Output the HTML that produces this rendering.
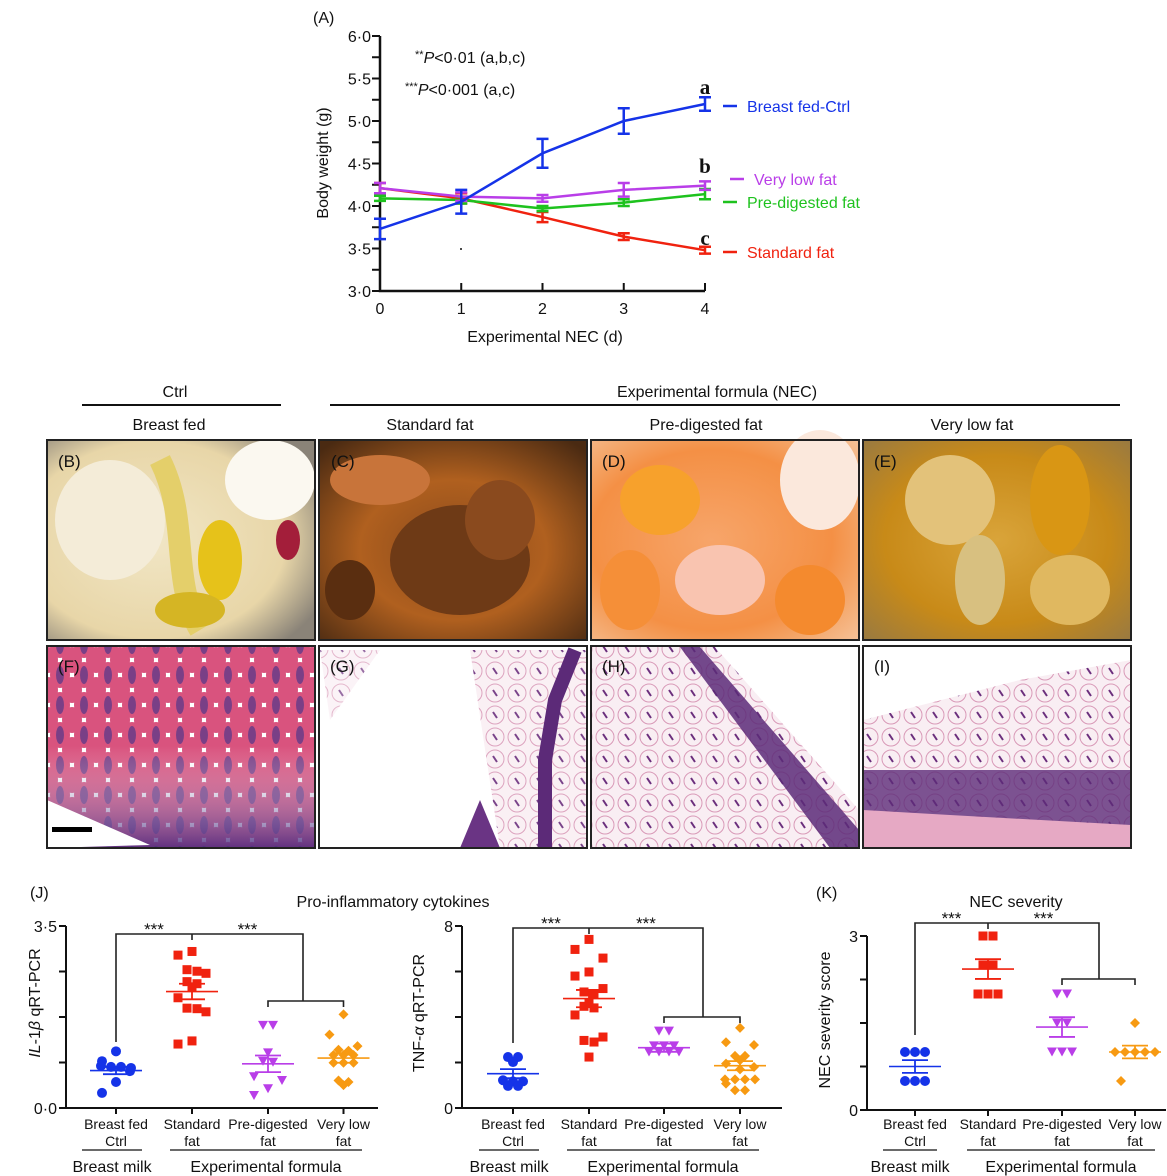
<!DOCTYPE html>
<html><head><meta charset="utf-8"><style>
html,body{margin:0;padding:0;background:#fff;}
svg{display:block;font-family:"Liberation Sans",sans-serif;}
</style></head><body>
<svg id="fig" width="1167" height="1176" viewBox="0 0 1167 1176" xmlns="http://www.w3.org/2000/svg">
<defs>
  <pattern id="villi" width="24" height="30" patternUnits="userSpaceOnUse">
    <rect width="24" height="30" fill="#fff"/>
    <ellipse cx="12" cy="15" rx="10" ry="13" fill="#d9537e"/>
    <ellipse cx="12" cy="15" rx="4" ry="9" fill="#7a3f86"/>
    <ellipse cx="0" cy="0" rx="10" ry="13" fill="#d9537e"/>
    <ellipse cx="24" cy="0" rx="10" ry="13" fill="#d9537e"/>
    <ellipse cx="0" cy="30" rx="10" ry="13" fill="#d9537e"/>
    <ellipse cx="24" cy="30" rx="10" ry="13" fill="#d9537e"/>
  </pattern>
  <pattern id="crypts" width="22" height="22" patternUnits="userSpaceOnUse">
    <rect width="22" height="22" fill="#f9eef3"/>
    <circle cx="11" cy="11" r="9" fill="none" stroke="#d99ab8" stroke-width="1"/>
    <path d="M9 8 L13 14" stroke="#6b2f7d" stroke-width="2"/>
  </pattern>
  <linearGradient id="fadeB" x1="0" y1="0" x2="0" y2="1"><stop offset="0" stop-color="#fff" stop-opacity="0"/><stop offset="1" stop-color="#4a2a80" stop-opacity=".85"/></linearGradient>
  <radialGradient id="gB" cx=".4" cy=".5" r=".7"><stop offset="0" stop-color="#f1e6c5"/><stop offset=".7" stop-color="#e8d6a8"/><stop offset="1" stop-color="#8a8378"/></radialGradient>
  <radialGradient id="gC" cx=".5" cy=".55" r=".7"><stop offset="0" stop-color="#8a4a1c"/><stop offset=".5" stop-color="#b0601f"/><stop offset="1" stop-color="#4a2a12"/></radialGradient>
  <radialGradient id="gD" cx=".45" cy=".5" r=".75"><stop offset="0" stop-color="#f7a56a"/><stop offset=".6" stop-color="#f49045"/><stop offset="1" stop-color="#f5c39a"/></radialGradient>
  <radialGradient id="gE" cx=".5" cy=".5" r=".7"><stop offset="0" stop-color="#d9a43a"/><stop offset=".6" stop-color="#c88a18"/><stop offset="1" stop-color="#9a7a40"/></radialGradient>
</defs>

<g id="panelA"></g>

<g font-size="16" fill="#111">
  <text x="175" y="397" text-anchor="middle">Ctrl</text>
  <line x1="82" y1="405" x2="281" y2="405" stroke="#111" stroke-width="2"/>
  <text x="717" y="397" text-anchor="middle">Experimental formula (NEC)</text>
  <line x1="330" y1="405" x2="1120" y2="405" stroke="#111" stroke-width="2"/>
  <text x="169" y="430" text-anchor="middle">Breast fed</text>
  <text x="430" y="430" text-anchor="middle">Standard fat</text>
  <text x="706" y="430" text-anchor="middle">Pre-digested fat</text>
  <text x="972" y="430" text-anchor="middle">Very low fat</text>
</g>

<g>
  <rect x="47" y="440" width="268" height="200" fill="url(#gB)"/>
  <ellipse cx="110" cy="520" rx="55" ry="60" fill="#f4ecd8"/>
  <ellipse cx="270" cy="480" rx="45" ry="40" fill="#fbf8f0"/>
  <path d="M160 460 C190 520 170 580 200 630" stroke="#e4cf6a" stroke-width="22" fill="none"/>
  <ellipse cx="220" cy="560" rx="22" ry="40" fill="#e6c21a"/>
  <ellipse cx="190" cy="610" rx="35" ry="18" fill="#d5b524"/>
  <ellipse cx="288" cy="540" rx="12" ry="20" fill="#a31e3a"/>
  <rect x="47" y="440" width="268" height="200" fill="none" stroke="#222" stroke-width="2"/>
  <text x="58" y="467" font-size="17" fill="#111">(B)</text>
</g>
<g>
  <rect x="319" y="440" width="268" height="200" fill="url(#gC)"/>
  <ellipse cx="380" cy="480" rx="50" ry="25" fill="#c8743a"/>
  <ellipse cx="460" cy="560" rx="70" ry="55" fill="#6e3a16"/>
  <ellipse cx="500" cy="520" rx="35" ry="40" fill="#8a4a1e"/>
  <ellipse cx="350" cy="590" rx="25" ry="30" fill="#5a2e10"/>
  <rect x="319" y="440" width="268" height="200" fill="none" stroke="#222" stroke-width="2"/>
  <text x="331" y="467" font-size="17" fill="#111">(C)</text>
</g>
<g>
  <rect x="591" y="440" width="268" height="200" fill="url(#gD)"/>
  <ellipse cx="820" cy="480" rx="40" ry="50" fill="#fbe8dc"/>
  <ellipse cx="660" cy="500" rx="40" ry="35" fill="#f7a12c"/>
  <ellipse cx="720" cy="580" rx="45" ry="35" fill="#f9c4b0"/>
  <ellipse cx="630" cy="590" rx="30" ry="40" fill="#f58f38"/>
  <ellipse cx="810" cy="600" rx="35" ry="35" fill="#f48a2e"/>
  <rect x="591" y="440" width="268" height="200" fill="none" stroke="#222" stroke-width="2"/>
  <text x="602" y="467" font-size="17" fill="#111">(D)</text>
</g>
<g>
  <rect x="863" y="440" width="268" height="200" fill="url(#gE)"/>
  <ellipse cx="950" cy="500" rx="45" ry="45" fill="#e3c27a"/>
  <ellipse cx="1060" cy="500" rx="30" ry="55" fill="#d99614"/>
  <ellipse cx="980" cy="580" rx="25" ry="45" fill="#d8c080"/>
  <ellipse cx="1070" cy="590" rx="40" ry="35" fill="#e0b860"/>
  <rect x="863" y="440" width="268" height="200" fill="none" stroke="#222" stroke-width="2"/>
  <text x="874" y="467" font-size="17" fill="#111">(E)</text>
</g>

<g>
  <rect x="47" y="646" width="268" height="202" fill="url(#villi)"/>
  <rect x="47" y="746" width="268" height="102" fill="url(#fadeB)"/>
  <path d="M47 800 L150 845 L47 848 Z" fill="#fff"/>
  <rect x="52" y="827" width="40" height="5" fill="#000"/>
  <rect x="47" y="646" width="268" height="202" fill="none" stroke="#222" stroke-width="2"/>
  <text x="58" y="672" font-size="17" fill="#111">(F)</text>
</g>
<g>
  <rect x="319" y="646" width="268" height="202" fill="#fff"/>
  <path d="M470 650 L587 650 L587 848 L500 848 Z" fill="url(#crypts)" opacity=".9"/>
  <path d="M575 650 L555 700 L545 760 L545 848" stroke="#5c2a78" stroke-width="14" fill="none"/>
  <path d="M460 848 L480 800 L500 848 Z" fill="#6a3484"/>
  <path d="M320 650 L380 650 L330 720 Z" fill="url(#crypts)" opacity=".7"/>
  <rect x="319" y="646" width="268" height="202" fill="none" stroke="#222" stroke-width="2"/>
  <text x="330" y="672" font-size="17" fill="#111">(G)</text>
</g>
<g>
  <rect x="591" y="646" width="268" height="202" fill="url(#crypts)"/>
  <path d="M700 647 L859 830 L859 848 L830 848 L680 647 Z" fill="#5c2a78" opacity=".85"/>
  <path d="M715 647 L859 810 L859 647 Z" fill="#fff"/>
  <rect x="591" y="646" width="268" height="202" fill="none" stroke="#222" stroke-width="2"/>
  <text x="602" y="672" font-size="17" fill="#111">(H)</text>
</g>
<g>
  <rect x="863" y="646" width="268" height="202" fill="url(#crypts)"/>
  <path d="M863 646 L1131 646 L1131 660 L1020 680 L863 720 Z" fill="#fff"/>
  <rect x="863" y="770" width="268" height="55" fill="#5c2a78" opacity=".8"/>
  <path d="M863 810 L950 815 L1131 825 L1131 848 L863 848 Z" fill="#e6a9c4"/>
  <rect x="863" y="646" width="268" height="202" fill="none" stroke="#222" stroke-width="2"/>
  <text x="874" y="672" font-size="17" fill="#111">(I)</text>
</g>

<g id="panelJ1"></g>
<g id="panelJ2"></g>
<g id="panelK"></g>
</svg>

<script>
const NS="http://www.w3.org/2000/svg";
// ---------- Panel A data ----------
const daysA=[0,1,2,3,4];
const yTicksA=[3.0,3.5,4.0,4.5,5.0,5.5,6.0];
const yTickLabelsA=["3·0","3·5","4·0","4·5","5·0","5·5","6·0"];
const breastFedMean=[3.73,4.05,4.62,5.00,5.20];
const breastFedErr=[0.12,0.14,0.17,0.15,0.08];
const veryLowFatMean=[4.21,4.11,4.09,4.19,4.24];
const veryLowFatErr=[0.06,0.05,0.04,0.08,0.05];
const preDigestedMean=[4.09,4.07,3.97,4.04,4.14];
const preDigestedErr=[0.03,0.04,0.03,0.04,0.06];
const standardFatMean=[4.21,4.09,3.87,3.64,3.48];
const standardFatErr=[0.06,0.06,0.06,0.04,0.04];

// ---------- J1 IL-1b ----------
const catLabels1=["Breast fed","Standard","Pre-digested","Very low"];
const catLabels2=["Ctrl","fat","fat","fat"];
const il1Blue=[1.09,0.90,0.79,0.79,0.77,0.81,0.71,0.50,0.29];
const il1Red=[3.01,2.94,2.66,2.59,2.63,2.39,2.43,2.33,2.12,1.91,1.92,1.85,1.23,1.29];
const il1Purple=[1.59,1.59,1.06,0.90,0.88,0.60,0.53,0.37,0.24];
const il1Orange=[1.80,1.41,1.12,1.19,1.02,1.10,1.02,1.02,0.87,0.87,0.87,0.53,0.50,0.44];
const il1Means=[0.72,2.24,0.85,0.96];
const il1Sem=[0.07,0.15,0.16,0.09];
// ---------- J2 TNF-a ----------
const tnfBlue=[2.24,2.02,2.24,1.22,1.17,0.97,0.97,1.17];
const tnfRed=[7.41,6.97,6.59,5.80,5.98,5.25,5.03,5.10,4.40,4.62,4.47,4.09,2.97,3.12,2.90,2.24];
const tnfPurple=[3.38,3.38,2.73,2.73,2.73,2.46,2.46,2.46,2.46];
const tnfOrange=[3.52,2.77,2.89,2.29,2.29,2.10,1.80,1.95,1.70,1.26,1.26,1.07,1.26,1.26,0.78,0.78];
const tnfMeans=[1.51,4.81,2.65,1.86];
const tnfSem=[0.20,0.38,0.18,0.20];
// ---------- K NEC severity ----------
const necBlue=[1,1,1,0.5,0.5,0.5];
const necRed=[3,3,2.5,2.5,2,2,2];
const necPurple=[2,2,1.5,1.5,1,1,1];
const necOrange=[1.5,1,1,1,1,1,0.5];
const necMeans=[0.75,2.43,1.43,1.0];
const necSem=[0.11,0.17,0.17,0.11];

const COLORS=["#1533e8","#f0220f","#b93ee8","#f79a12"];

function el(parent,tag,attrs,text){
  const e=document.createElementNS(NS,tag);
  for(const k in attrs) e.setAttribute(k,attrs[k]);
  if(text!==undefined) e.textContent=text;
  parent.appendChild(e);return e;
}

(function(){
  const g=document.getElementById('panelA');
  const X0=380,X1=705,Y0=291,Y1=36;
  const xS=d=>X0+(d-0)/(4-0)*(X1-X0);
  const yS=v=>Y0-(v-3)/(6-3)*(Y0-Y1);
  const t=el(g,'text',{x:313,y:23,'font-size':16,fill:'#111'},'(A)');
  
  
  const ax=el(g,'path',{d:`M${X0} ${Y1} L${X0} ${Y0} L${X1} ${Y0}`,stroke:'#111','stroke-width':2.5,fill:'none'});
  
  
  for(let v=3;v<=6.001;v+=0.25){
    el(g,'line',{x1:X0-8,x2:X0,y1:yS(v),y2:yS(v),stroke:'#111','stroke-width':2});
  }
  yTicksA.forEach((v,i)=>{
    const tl=el(g,'text',{x:X0-9,y:yS(v)+6,'font-size':16,'text-anchor':'end',fill:'#111'},yTickLabelsA[i]);
    
    
  });
  daysA.forEach(d=>{
    el(g,'line',{x1:xS(d),x2:xS(d),y1:Y0,y2:Y0-8,stroke:'#111','stroke-width':2});
    const tl=el(g,'text',{x:xS(d),y:Y0+23,'font-size':16,'text-anchor':'middle',fill:'#111'},String(d));
    
    
  });
  const xt=el(g,'text',{x:545,y:342,'font-size':16,'text-anchor':'middle',fill:'#111'},'Experimental NEC (d)');
  
  
  const yt=el(g,'text',{x:0,y:0,'font-size':16,'text-anchor':'middle',fill:'#111',transform:`translate(328,163) rotate(-90)`},'Body weight (g)');
  
  
  const p1=el(g,'text',{x:415,y:63,'font-size':16,fill:'#111'});
  p1.innerHTML='<tspan font-size="11" dy="-5">**</tspan><tspan dy="5" font-style="italic">P</tspan>&lt;0·01 (a,b,c)';
  
  
  const p2=el(g,'text',{x:405,y:95,'font-size':16,fill:'#111'});
  p2.innerHTML='<tspan font-size="11" dy="-5">***</tspan><tspan dy="5" font-style="italic">P</tspan>&lt;0·001 (a,c)';
  
  
  el(g,'circle',{cx:461,cy:249,r:1,fill:'#111'});
  const series=[
    {m:standardFatMean,e:standardFatErr,c:COLORS[1],name:'standard-fat',label:'Standard fat',ly:258,letter:'c',lty:245},
    {m:preDigestedMean,e:preDigestedErr,c:'#1ec21e',name:'pre-digested-fat',label:'Pre-digested fat',ly:208},
    {m:veryLowFatMean,e:veryLowFatErr,c:COLORS[2],name:'very-low-fat',label:'Very low fat',ly:185,lx:754,letter:'b',lty:173},
    {m:breastFedMean,e:breastFedErr,c:COLORS[0],name:'breast-fed-ctrl',label:'Breast fed-Ctrl',ly:112,letter:'a',lty:94},
  ];
  series.forEach(s=>{
    const sg=el(g,'g',{});
    
    
    const d=s.m.map((v,i)=>(i?'L':'M')+xS(daysA[i])+' '+yS(v)).join(' ');
    el(sg,'path',{d,stroke:s.c,'stroke-width':2.5,fill:'none'});
    s.m.forEach((v,i)=>{
      const x=xS(daysA[i]),yt=yS(v+s.e[i]),yb=yS(v-s.e[i]);
      el(sg,'path',{d:`M${x-6} ${yt} L${x+6} ${yt} M${x} ${yt} L${x} ${yb} M${x-6} ${yb} L${x+6} ${yb}`,stroke:s.c,'stroke-width':2.5,fill:'none'});
    });
    const lx=s.lx||747;
    el(sg,'line',{x1:lx-24,x2:lx-10,y1:s.ly-6,y2:s.ly-6,stroke:s.c,'stroke-width':2.5});
    const lt=el(sg,'text',{x:lx,y:s.ly,'font-size':16,fill:s.c},s.label);
    
    
    if(s.letter){
      const L=el(sg,'text',{x:705,y:s.lty,'font-size':21,'font-weight':'bold','font-family':'Liberation Serif, serif','text-anchor':'middle',fill:'#111'},s.letter);
      
      
    }
  });
})();

function marker(g,shape,x,y,c){
  if(shape==='circle') return el(g,'circle',{cx:x,cy:y,r:5,fill:c});
  if(shape==='square') return el(g,'rect',{x:x-4.5,y:y-4.5,width:9,height:9,fill:c});
  if(shape==='tri') return el(g,'path',{d:`M${x-5} ${y-4.5} L${x+5} ${y-4.5} L${x} ${y+4.5} Z`,fill:c});
  return el(g,'path',{d:`M${x} ${y-5} L${x+5} ${y} L${x} ${y+5} L${x-5} ${y} Z`,fill:c});
}
function scatterPanel(id,cfg){
  const g=document.getElementById(id);
  const yS=v=>cfg.yb-(v/cfg.ymax)*(cfg.yb-cfg.yt);
  el(g,'path',{d:`M${cfg.x0} ${cfg.yt} L${cfg.x0} ${cfg.yb} L${cfg.xe} ${cfg.yb}`,stroke:'#111','stroke-width':2,fill:'none'});
  for(let i=0;i<=4;i++){const v=cfg.ymax*i/4;el(g,'line',{x1:cfg.x0-7,x2:cfg.x0,y1:yS(v),y2:yS(v),stroke:'#111','stroke-width':2});}
  const tTop=el(g,'text',{x:cfg.x0-9,y:yS(cfg.ymax)+6,'font-size':16,'text-anchor':'end',fill:'#111'},cfg.topLabel);
  
  
  const tBot=el(g,'text',{x:cfg.x0-9,y:yS(0)+6,'font-size':16,'text-anchor':'end',fill:'#111'},cfg.botLabel);
  
  
  const yt=el(g,'text',{'font-size':16,'text-anchor':'middle',fill:'#111',transform:`translate(${cfg.ytx},${cfg.yty}) rotate(-90)`});
  yt.innerHTML=cfg.yTitle;
  
  
  const shapes=['circle','square','tri','diamond'];
  const thr=cfg.ymax*0.012;
  cfg.groups.forEach((vals,gi)=>{
    const cx=cfg.cats[gi];
    const sg=el(g,'g',{});
    
    
    el(g,'line',{x1:cx,x2:cx,y1:cfg.yb,y2:cfg.yb+6,stroke:'#111','stroke-width':2});
    const idx=vals.map((v,i)=>i).sort((a,b)=>vals[b]-vals[a]);
    const rows=[];
    idx.forEach(i=>{
      const r=rows.find(r=>Math.abs(vals[r[0]]-vals[i])<thr);
      if(r) r.push(i); else rows.push([i]);
    });
    const alt=[0,-1,1];
    let single=0;
    rows.forEach(r=>{
      r.forEach((i,k)=>{
        let off=(k-(r.length-1)/2)*cfg.sp;
        if(r.length===1){off=alt[single%3]*cfg.sp*1.4;single++;}
        const m=marker(sg,shapes[gi],cx+off,yS(vals[i]),COLORS[gi]);
        
        
      });
    });
    const mean=cfg.means[gi],se=cfg.sem[gi];
    el(sg,'line',{x1:cx-26,x2:cx+26,y1:yS(mean),y2:yS(mean),stroke:COLORS[gi],'stroke-width':1.6});
    el(sg,'path',{d:`M${cx-13} ${yS(mean+se)} L${cx+13} ${yS(mean+se)} M${cx} ${yS(mean+se)} L${cx} ${yS(mean-se)} M${cx-13} ${yS(mean-se)} L${cx+13} ${yS(mean-se)}`,stroke:COLORS[gi],'stroke-width':1.8,fill:'none'});
    const l1=el(g,'text',{x:cx,y:1129,'font-size':14,'text-anchor':'middle',fill:'#111'},catLabels1[gi]);
    
    
    el(g,'text',{x:cx,y:1146,'font-size':14,'text-anchor':'middle',fill:'#111'},catLabels2[gi]);
  });
  el(g,'line',{x1:cfg.bm[0],x2:cfg.bm[1],y1:1150,y2:1150,stroke:'#111','stroke-width':1.2});
  el(g,'line',{x1:cfg.ef[0],x2:cfg.ef[1],y1:1150,y2:1150,stroke:'#111','stroke-width':1.2});
  const bm=el(g,'text',{x:(cfg.bm[0]+cfg.bm[1])/2,y:1172,'font-size':16,'text-anchor':'middle',fill:'#111'},'Breast milk');
  
  
  const ef=el(g,'text',{x:(cfg.ef[0]+cfg.ef[1])/2,y:1172,'font-size':16,'text-anchor':'middle',fill:'#111'},'Experimental formula');
  
  
  const b=cfg.br, c=cfg.cats;
  const br=el(g,'path',{d:`M${c[0]} ${b.l} L${c[0]} ${b.top} L${b.rx} ${b.top} L${b.rx} ${b.low} M${c[1]} ${b.top} L${c[1]} ${b.top+6} M${c[2]} ${b.low+6} L${c[2]} ${b.low} L${c[3]} ${b.low} L${c[3]} ${b.low+6}`,stroke:'#222','stroke-width':1.6,fill:'none'});
  
  
  el(g,'text',{x:(c[0]+c[1])/2,y:b.top+1,'font-size':17,'text-anchor':'middle',fill:'#111'},'***');
  el(g,'text',{x:(c[1]+b.rx)/2,y:b.top+1,'font-size':17,'text-anchor':'middle',fill:'#111'},'***');
}

scatterPanel('panelJ1',{x0:66,xe:378,yt:926,yb:1108,ymax:3.5,topLabel:'3·5',botLabel:'0·0',
  cats:[116,192,268,343.5],groups:[il1Blue,il1Red,il1Purple,il1Orange],means:il1Means,sem:il1Sem,sp:10,
  yTitle:'<tspan font-style="italic">IL</tspan>-1<tspan font-style="italic">β</tspan> qRT-PCR',ytx:40,yty:1003,
  bm:[82,142],ef:[170,362],br:{top:934,l:1042,rx:303,low:1001}});
scatterPanel('panelJ2',{x0:462,xe:782,yt:926,yb:1108,ymax:8,topLabel:'8',botLabel:'0',
  cats:[513,589,664,740],groups:[tnfBlue,tnfRed,tnfPurple,tnfOrange],means:tnfMeans,sem:tnfSem,sp:10,
  yTitle:'TNF-<tspan font-style="italic">α</tspan> qRT-PCR',ytx:424,yty:1013,
  bm:[479,539],ef:[567,759],br:{top:928,l:1043,rx:703,low:1017}});
scatterPanel('panelK',{x0:867,xe:1166,yt:936,yb:1110,ymax:3,topLabel:'3',botLabel:'0',
  cats:[915,988,1062,1135],groups:[necBlue,necRed,necPurple,necOrange],means:necMeans,sem:necSem,sp:10,
  yTitle:'NEC severity score',ytx:830,yty:1020,
  bm:[883,937],ef:[967,1155],br:{top:923,l:1035,rx:1099,low:979}});

(function(){
  const s=document.getElementById('fig');
  const a=el(s,'text',{x:30,y:898,'font-size':16,fill:'#111'},'(J)');
  
  
  const b=el(s,'text',{x:816,y:898,'font-size':16,fill:'#111'},'(K)');
  
  
  const c=el(s,'text',{x:393,y:907,'font-size':16,'text-anchor':'middle',fill:'#111'},'Pro-inflammatory cytokines');
  
  
  const d=el(s,'text',{x:1016,y:907,'font-size':16,'text-anchor':'middle',fill:'#111'},'NEC severity');
  
  
})();
</script>
</body></html>
